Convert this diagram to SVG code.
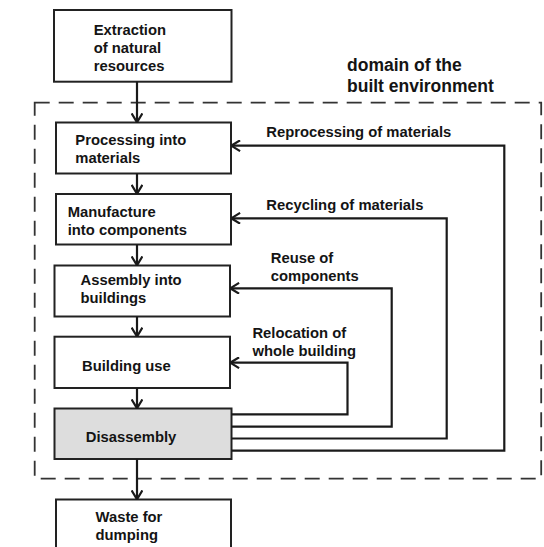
<svg xmlns="http://www.w3.org/2000/svg" width="544" height="547" viewBox="0 0 544 547">
  <defs>
    <style>
      .box { fill: #ffffff; stroke: #222222; stroke-width: 2; }
      .box.grey { fill: #dddddd; }
      .lbl { font-family: "Liberation Sans", Arial, Helvetica, sans-serif; font-weight: bold; font-size: 14.8px; fill: #141414; }
      .title { font-size: 17.5px; }
      .flow { fill: none; stroke: #1a1a1a; stroke-width: 2.2; marker-end: url(#chev); }
      .domain { fill: none; stroke: #333333; stroke-width: 1.8; stroke-dasharray: 15 9; }
    </style>
    <!-- open chevron arrowhead -->
    <marker id="chev" viewBox="0 0 10 12" refX="9.6" refY="6" markerWidth="10" markerHeight="12" markerUnits="userSpaceOnUse" orient="auto">
      <path d="M0.5,0.6 L9.4,6 L0.5,11.4" fill="none" stroke="#1a1a1a" stroke-width="2.2"/>
    </marker>
  </defs>

  <rect width="544" height="547" fill="#ffffff"/>

  <!-- dashed boundary: domain of the built environment -->
  <g id="domain">
    <rect class="domain" x="34.7" y="102.7" width="506.5" height="376"/>
    <text class="lbl title" x="347" y="71">domain of the</text>
    <text class="lbl title" x="347" y="91.7">built environment</text>
  </g>

  <g id="extraction">
    <rect class="box" x="54" y="10" width="177.5" height="71.7"/>
    <text class="lbl" x="93.7" y="35">Extraction</text>
    <text class="lbl" x="93.7" y="53.3">of natural</text>
    <text class="lbl" x="93.7" y="71">resources</text>
  </g>

  <g id="processing">
    <rect class="box" x="56" y="122.5" width="175" height="51"/>
    <text class="lbl" x="75.3" y="144.5">Processing into</text>
    <text class="lbl" x="75.3" y="162.7">materials</text>
  </g>

  <g id="manufacture">
    <rect class="box" x="56" y="194" width="175" height="50.5"/>
    <text class="lbl" x="67.7" y="216.7">Manufacture</text>
    <text class="lbl" x="67.7" y="234.5">into components</text>
  </g>

  <g id="assembly">
    <rect class="box" x="54.5" y="265.5" width="175.5" height="51"/>
    <text class="lbl" x="80.5" y="285">Assembly into</text>
    <text class="lbl" x="80.5" y="302.7">buildings</text>
  </g>

  <g id="building-use">
    <rect class="box" x="54.5" y="336.7" width="175.5" height="51.3"/>
    <text class="lbl" x="82" y="370.7">Building use</text>
  </g>

  <g id="disassembly">
    <rect class="box grey" x="54.5" y="408.5" width="177" height="50.5"/>
    <text class="lbl" x="85.8" y="441.7">Disassembly</text>
  </g>

  <g id="waste">
    <rect class="box" x="56" y="499.5" width="175" height="60"/>
    <text class="lbl" x="95.5" y="521.7">Waste for</text>
    <text class="lbl" x="95.5" y="539.5">dumping</text>
  </g>

  <g id="connectors">
    <!-- main downward chain -->
    <path class="flow" d="M137,81.7 V122.5"/>
    <path class="flow" d="M137,173.5 V194"/>
    <path class="flow" d="M137,244.5 V265.5"/>
    <path class="flow" d="M137,316.5 V336.7"/>
    <path class="flow" d="M137,388 V408.5"/>
    <path class="flow" d="M137,459 V499.5"/>

    <!-- return loops from disassembly -->
    <path class="flow" d="M231.5,414.3 H347.5 V362.7 H230"/>
    <path class="flow" d="M231.5,426.7 H391.7 V288.3 H230"/>
    <path class="flow" d="M231.5,438.5 H446.7 V218.3 H231"/>
    <path class="flow" d="M231.5,450.7 H504.3 V145.7 H231"/>

    <text class="lbl" x="252.4" y="338.3">Relocation of</text>
    <text class="lbl" x="252.4" y="355.7">whole building</text>
    <text class="lbl" x="270.8" y="263.3">Reuse of</text>
    <text class="lbl" x="270.8" y="281">components</text>
    <text class="lbl" x="266.3" y="210">Recycling of materials</text>
    <text class="lbl" x="266.3" y="137.3">Reprocessing of materials</text>
  </g>
</svg>
